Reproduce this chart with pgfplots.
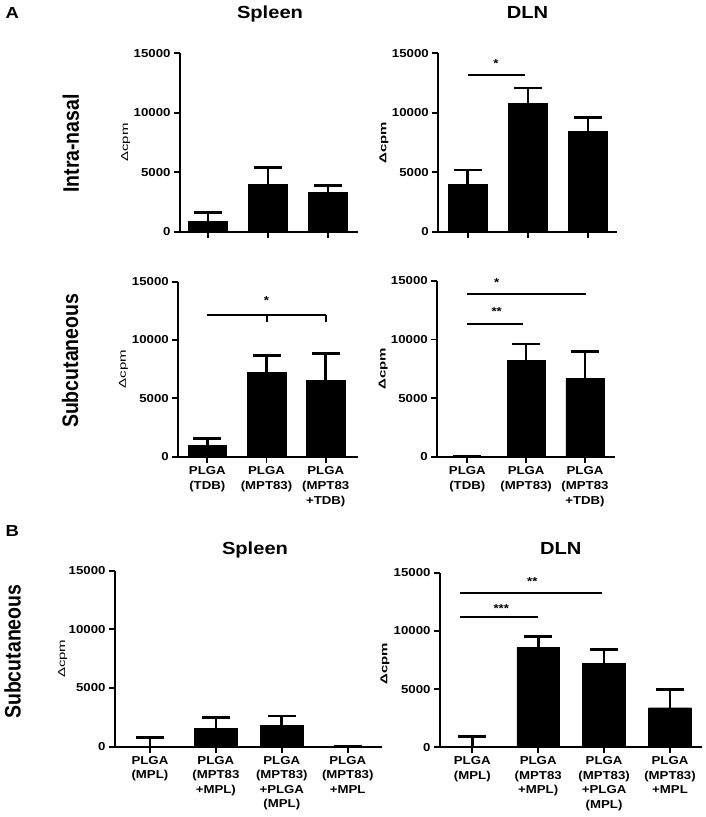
\documentclass[border=0pt]{standalone}
\usepackage{pgfplots}
\pgfplotsset{compat=1.18}
\usepackage{fontspec}
\setmainfont{Liberation Sans}[FakeStretch=1.15]
\newfontfamily\plainfont{Liberation Sans}

\newcommand{\ticks}{\bfseries\fontsize{11.5}{15}\selectfont}
\newcommand{\ticksB}{\bfseries\fontsize{11.5}{14.5}\selectfont}
\newcommand{\sidelabel}[1]{\scalebox{1}[1.15]{\plainfont\bfseries\fontsize{19.5}{22}\selectfont #1}}
\newcommand{\dcpm}[1]{\scalebox{1.5}[1]{\plainfont#1\fontsize{10}{12}\selectfont Δcpm}}

\tikzset{sig/.style={line width=2pt}}
\pgfplotsset{
  cpm/.style={
    scale only axis,
    clip=false,
    axis lines=left,
    axis line style={line width=1.8pt,-},
    ymin=0, ymax=15000,
    ytick={0,5000,10000,15000},
    yticklabels={0,5000,10000,15000},
    scaled y ticks=false,
    tick align=outside,
    major tick length=6pt,
    tick style={line width=1.8pt,black},
    tick label style={font=\ticks},
    xticklabel style={align=center},
    xtick=data,
    ybar, bar width=0.65,
    ylabel style={at={(axis description cs:-0.305,0.5)},anchor=center,rotate=0},
  },
  bars/.style={
    fill=black, draw=black,
    error bars/.cd, y dir=plus, y explicit,
    error bar style={line width=2.6pt,black},
    error mark options={rotate=90,line width=2.6pt,mark size=14pt,black},
  },
}

\begin{document}
\begin{tikzpicture}[x=1pt,y=1pt]
\useasboundingbox (0,0) rectangle (705,817);

% ---------- panel A ----------
\node[anchor=base west,font=\bfseries\fontsize{16}{18}\selectfont] at (2,798.7) {A};
\node[anchor=base,font=\bfseries\fontsize{17.5}{20}\selectfont] at (270,798.7) {Spleen};
\node[anchor=base,font=\bfseries\fontsize{17.5}{20}\selectfont] at (527.5,798.7) {DLN};
\node[rotate=90] at (70.8,673.5) {\sidelabel{Intra-nasal}};
\node[rotate=90] at (70,456.2) {\sidelabel{Subcutaneous}};

% A: spleen, intra-nasal
\begin{axis}[cpm, at={(180pt,585.3pt)}, anchor=south west,
  width=178pt, height=178.4pt, xmin=-0.47, xmax=2.5,
  xticklabels={}, ylabel={\dcpm{}}]
\addplot[bars] coordinates {(0,850) +- (0,750) (1,4000) +- (0,1420) (2,3310) +- (0,560)};
\end{axis}

% A: DLN, intra-nasal
\begin{axis}[cpm, at={(438.3pt,585.3pt)}, anchor=south west,
  width=178.4pt, height=178.4pt, xmin=-0.49, xmax=2.48,
  xticklabels={}, ylabel={\dcpm{\bfseries}}]
\addplot[bars] coordinates {(0,4010) +- (0,1180) (1,10770) +- (0,1320) (2,8410) +- (0,1180)};
\draw[sig] (axis cs:0,13150) -- (axis cs:0.955,13150);
\node[font=\ticks] at (axis cs:0.47,14150) {*};
\end{axis}

% A: spleen, subcutaneous
\begin{axis}[cpm, at={(178.3pt,360.3pt)}, anchor=south west,
  width=180pt, height=175pt, xmin=-0.49, xmax=2.55,
  xticklabels={{PLGA\\(TDB)},{PLGA\\(MPT83)},{PLGA\\(MPT83\\+TDB)}},
  ylabel={\dcpm{}}]
\addplot[bars] coordinates {(0,943) +- (0,634) (1,7230) +- (0,1430) (2,6570) +- (0,2290)};
\draw[sig] (axis cs:0,12140) -- (axis cs:2,12140);
\draw[sig] (axis cs:1,12140) -- (axis cs:1,11570);
\draw[sig] (axis cs:2,12140) -- (axis cs:2,11570);
\node[font=\ticks] at (axis cs:1,13350) {*};
\end{axis}

% A: DLN, subcutaneous
\begin{axis}[cpm, at={(437.3pt,360.3pt)}, anchor=south west,
  width=177.7pt, height=175.7pt, xmin=-0.51, xmax=2.51,
  xticklabels={{PLGA\\(TDB)},{PLGA\\(MPT83)},{PLGA\\(MPT83\\+TDB)}},
  ylabel={\dcpm{\bfseries}}]
\addplot[bars] coordinates {(0,0) +- (0,0) (1,8200) +- (0,1420) (2,6690) +- (0,2310)};
\draw[sig] (axis cs:0,13870) -- (axis cs:2.01,13870);
\draw[sig] (axis cs:0,11330) -- (axis cs:0.95,11330);
\node[font=\ticks] at (axis cs:0.5,14850) {*};
\node[font=\ticks] at (axis cs:0.5,12350) {**};
\end{axis}

% ---------- panel B ----------
\node[anchor=base west,font=\bfseries\fontsize{16}{18}\selectfont] at (2,280.3) {B};
\node[anchor=base,font=\bfseries\fontsize{17.5}{20}\selectfont] at (255,262) {Spleen};
\node[anchor=base,font=\bfseries\fontsize{17.5}{20}\selectfont] at (560.8,262) {DLN};
\node[rotate=90] at (12.5,165.3) {\sidelabel{Subcutaneous}};

% B: spleen
\begin{axis}[cpm, at={(115pt,70.3pt)}, anchor=south west,
  width=267pt, height=176pt, xmin=-0.53, xmax=3.52,
  xticklabels={{PLGA\\(MPL)},{PLGA\\(MPT83\\+MPL)},{PLGA\\(MPT83)\\+PLGA\\(MPL)},{PLGA\\(MPT83)\\+MPL}},
  xticklabel style={font=\ticksB},
  ylabel={\dcpm{}}, ylabel style={at={(axis description cs:-0.196,0.5)}}]
\addplot[bars] coordinates {(0,0) +- (0,770) (1,1570) +- (0,900) (2,1790) +- (0,830) (3,0) +- (0,0)};
\end{axis}

% B: DLN
\begin{axis}[cpm, at={(440pt,69.7pt)}, anchor=south west,
  width=262.3pt, height=174.6pt, xmin=-0.49, xmax=3.49,
  xticklabels={{PLGA\\(MPL)},{PLGA\\(MPT83\\+MPL)},{PLGA\\(MPT83)\\+PLGA\\(MPL)},{PLGA\\(MPT83)\\+MPL}},
  xticklabel style={font=\ticksB},
  ylabel={\dcpm{\bfseries}}, ylabel style={at={(axis description cs:-0.21,0.48)}}]
\addplot[bars] coordinates {(0,0) +- (0,910) (1,8560) +- (0,940) (2,7210) +- (0,1210) (3,3400) +- (0,1580)};
\draw[sig] (axis cs:-0.19,13280) -- (axis cs:1.97,13280);
\draw[sig] (axis cs:-0.19,11220) -- (axis cs:0.99,11220);
\node[font=\ticks] at (axis cs:0.91,14200) {**};
\node[font=\ticks] at (axis cs:0.44,11900) {***};
\end{axis}
\end{tikzpicture}
\end{document}
